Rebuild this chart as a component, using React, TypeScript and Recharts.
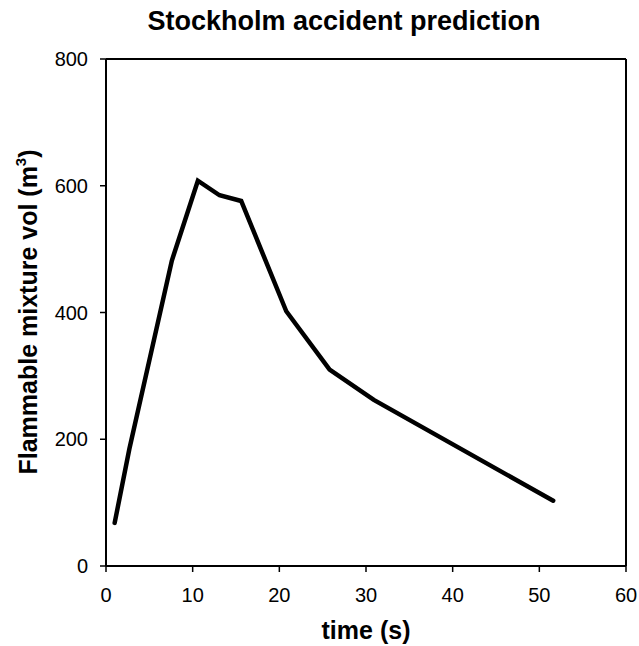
import { Line, LineChart, ReferenceLine, XAxis, YAxis } from "recharts";

const times = [1, 2.7, 7.6, 10.6, 13.1, 15.6, 20.8, 25.8, 30.9, 51.6];
const volumes = [68, 185, 482, 608, 585, 576, 402, 310, 262, 103];
const xTicks = [0, 10, 20, 30, 40, 50, 60];
const yTicks = [0, 200, 400, 600, 800];

const data = times.map((t, i) => ({ t, vol: volumes[i] }));

const font = "'Liberation Sans', Arial, sans-serif";
const tickStyle = { fill: "#000", fontSize: 20, fontFamily: font };
const labelStyle = {
  position: "absolute" as const,
  fontFamily: font,
  fontWeight: "bold" as const,
  fontSize: 25,
  lineHeight: 1,
  textAlign: "center" as const,
  whiteSpace: "nowrap" as const,
};

export default function App() {
  return (
    <div style={{ position: "absolute", left: 0, top: 0, width: 639, height: 646, background: "#fff" }}>
      <div style={{ ...labelStyle, top: 8, left: 0, width: 688, fontSize: 27 }}>
        Stockholm accident prediction
      </div>
      <LineChart width={639} height={646} data={data} margin={{ top: 59, right: 13, bottom: 50, left: 46 }}>
        <XAxis
          dataKey="t"
          type="number"
          domain={[0, 60]}
          ticks={xTicks}
          height={30}
          stroke="#000"
          strokeWidth={2}
          tickSize={6}
          tickMargin={16}
          tick={tickStyle}
          tickLine={{ stroke: "#000", strokeWidth: 1.5 }}
          allowDataOverflow
        />
        <YAxis
          type="number"
          domain={[0, 800]}
          ticks={yTicks}
          width={60}
          stroke="#000"
          strokeWidth={2}
          tickSize={6}
          tickMargin={12}
          tick={tickStyle}
          tickLine={{ stroke: "#000", strokeWidth: 1.5 }}
          allowDataOverflow
        />
        {/* closing the frame on the top and right */}
        <ReferenceLine y={800} stroke="#000" strokeWidth={2} />
        <ReferenceLine x={60} stroke="#000" strokeWidth={2} />
        <Line
          dataKey="vol"
          type="linear"
          stroke="#000"
          strokeWidth={4.5}
          dot={false}
          strokeLinejoin="miter"
          strokeLinecap="round"
          isAnimationActive={false}
        />
      </LineChart>
      <div style={{ ...labelStyle, top: 618, left: 266, width: 200 }}>time (s)</div>
      <div
        style={{
          ...labelStyle,
          left: 28,
          top: 312,
          width: 400,
          height: 25,
          transform: "translate(-50%, -50%) rotate(-90deg)",
        }}
      >
        Flammable mixture vol (m
        <span style={{ fontSize: 15, position: "relative", top: -11 }}>3</span>)
      </div>
    </div>
  );
}
